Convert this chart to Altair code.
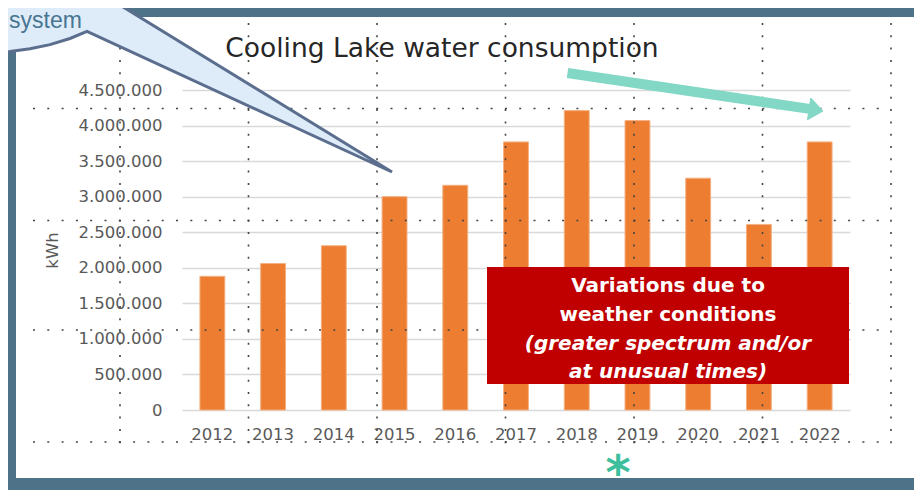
import altair as alt
import pandas as pd

# ---------------- chart data ----------------
years = ["2012", "2013", "2014", "2015", "2016", "2017", "2018", "2019", "2020", "2021", "2022"]
kwh = [1880000, 2060000, 2310000, 3000000, 3160000, 3770000, 4210000, 4070000, 3260000, 2610000, 3770000]
y_ticks = [0, 500000, 1000000, 1500000, 2000000, 2500000, 3000000, 3500000, 4000000, 4500000]

title_text = "Cooling Lake water consumption"
y_title = "kWh"
box_lines_bold = ["Variations due to", "weather conditions"]
box_lines_italic = ["(greater spectrum and/or", "at unusual times)"]
bubble_label = "system"
star_label = "*"

# ---------------- annotation geometry (slide pixels) ----------------
PX = [182, 850]   # plot area left/right on the slide
PY = [410, 90]    # plot area bottom/top on the slide

hdot_y = [108.5, 220.5, 330, 442]
hdot_x0 = [33, 33, 33, 33]
hdot_x1 = [891, 891, 891, 891]
vdot_x = [120, 248.5, 377, 505.5, 634, 762.5, 891]
vdot_y0 = [23] * 7
vdot_y1 = [453] * 7

frame_x0 = [0, 0, 0]
frame_x1 = [16, 922, 922]
frame_y0 = [0, 0, 478]
frame_y1 = [490, 17, 490]

bubble_x = [-10, 10, 30, 50, 70, 87, 392, 122, 128, 131, 131, -10, -10]
bubble_y = [52.8, 51.5, 48.8, 44.6, 38.5, 31.4, 172, 6.3, -1.8, -6, -15, -15, 52.8]

arrow_x = [567.5, 809.5]
arrow_y = [73, 108.9]
head_x = [810.8, 823, 807.5, 810.8]
head_y = [98.0, 111, 119.8, 98.0]

box_x0, box_x1, box_y0, box_y1 = [487], [849], [267], [384]
box_text_x = 668
box_bold_y = [291.7, 321]
box_italic_y = [349.5, 378.3]

title_x, title_y = [442], [57.3]
bubble_text_x, bubble_text_y = [9], [28]
star_x, star_y = [618], [489]

# ---------------- helpers ----------------
def sx(f):
    return alt.X(f"{f}:Q", scale=alt.Scale(domain=PX, nice=False, zero=False), axis=None)

def sy(f):
    return alt.Y(f"{f}:Q", scale=alt.Scale(domain=PY, nice=False, zero=False), axis=None)

# ---------------- bars ----------------
bars_df = pd.DataFrame({"year": years, "kwh": kwh})
bars = alt.Chart(bars_df).mark_bar(color="#ED7D31", stroke="#F4B183", strokeWidth=1).encode(
    x=alt.X("year:O", sort=years, title=None,
            scale=alt.Scale(paddingInner=0.59, paddingOuter=0.295),
            axis=alt.Axis(labelAngle=0, domain=False, ticks=False, grid=False, labelPadding=16)),
    y=alt.Y("kwh:Q", title=y_title,
            scale=alt.Scale(domain=[0, 4500000], nice=False, zero=True),
            axis=alt.Axis(values=y_ticks, domain=False, ticks=False, grid=True,
                          gridColor="#D9D9D9", gridWidth=1.5, labelPadding=20, titlePadding=18,
                          labelExpr="replace(format(datum.value, ','), /,/g, '.')")),
)

# ---------------- overlays ----------------
hdots = alt.Chart(pd.DataFrame({"x": hdot_x0, "x2": hdot_x1, "y": hdot_y})).mark_rule(
    color="#444444", strokeWidth=1.6, strokeDash=[2, 12.3], strokeCap="butt").encode(
    x=sx("x"), x2="x2:Q", y=sy("y"))
vdots = alt.Chart(pd.DataFrame({"x": vdot_x, "y": vdot_y0, "y2": vdot_y1})).mark_rule(
    color="#444444", strokeWidth=1.6, strokeDash=[2, 10.3], strokeCap="butt").encode(
    x=sx("x"), y=sy("y"), y2="y2:Q")

title = alt.Chart(pd.DataFrame({"x": title_x, "y": title_y, "t": [title_text]})).mark_text(
    font="DejaVu Sans", fontSize=26.5, color="#262626", align="center", baseline="alphabetic").encode(
    x=sx("x"), y=sy("y"), text="t:N")

shaft = alt.Chart(pd.DataFrame({"x": arrow_x, "y": arrow_y, "i": [0, 1]})).mark_line(
    color="#82D8C5", strokeWidth=10, strokeCap="butt").encode(
    x=sx("x"), y=sy("y"), order="i:Q")
head = alt.Chart(pd.DataFrame({"x": head_x, "y": head_y, "i": list(range(len(head_x)))})).mark_line(
    color="#82D8C5", fill="#82D8C5", strokeWidth=1).encode(
    x=sx("x"), y=sy("y"), order="i:Q")

box = alt.Chart(pd.DataFrame({"x": box_x0, "x2": box_x1, "y": box_y0, "y2": box_y1})).mark_rect(
    color="#C00000").encode(x=sx("x"), x2="x2:Q", y=sy("y"), y2="y2:Q")
box_t1 = alt.Chart(pd.DataFrame({"x": [box_text_x] * 2, "y": box_bold_y, "t": box_lines_bold})).mark_text(
    font="DejaVu Sans", fontSize=20, fontWeight="bold", color="white", align="center",
    baseline="alphabetic").encode(x=sx("x"), y=sy("y"), text="t:N")
box_t2 = alt.Chart(pd.DataFrame({"x": [box_text_x] * 2, "y": box_italic_y, "t": box_lines_italic})).mark_text(
    font="DejaVu Sans", fontSize=20, fontWeight="bold", fontStyle="italic", color="white", align="center",
    baseline="alphabetic").encode(x=sx("x"), y=sy("y"), text="t:N")

star = alt.Chart(pd.DataFrame({"x": star_x, "y": star_y, "t": [star_label]})).mark_text(
    font="DejaVu Sans", fontSize=48, fontWeight="bold", color="#3DBF9E", align="center",
    baseline="alphabetic").encode(x=sx("x"), y=sy("y"), text="t:N")

frame = alt.Chart(pd.DataFrame({"x": frame_x0, "x2": frame_x1, "y": frame_y0, "y2": frame_y1})).mark_rect(
    color="#4E7389").encode(x=sx("x"), x2="x2:Q", y=sy("y"), y2="y2:Q")

bubble = alt.Chart(pd.DataFrame({"x": bubble_x, "y": bubble_y, "i": list(range(len(bubble_x)))})).mark_line(
    color="#5B6E8E", fill="#DEECF9", strokeWidth=3, strokeJoin="miter").encode(
    x=sx("x"), y=sy("y"), order="i:Q")
bubble_t = alt.Chart(pd.DataFrame({"x": bubble_text_x, "y": bubble_text_y, "t": [bubble_label]})).mark_text(
    font="Liberation Sans", fontSize=23, color="#487591", align="left", baseline="alphabetic").encode(
    x=sx("x"), y=sy("y"), text="t:N")

chart = alt.layer(
    bars, hdots, vdots, title, shaft, head, box, box_t1, box_t2, frame, star, bubble, bubble_t
).resolve_scale(x="independent", y="independent").properties(
    width=668, height=320,
    autosize=alt.AutoSizeParams(type="none"),
    padding={"left": 174, "top": 82, "right": 64, "bottom": 80},
    background="white",
).configure_view(stroke=None).configure_axis(
    labelFont="DejaVu Sans", labelFontSize=16.5, labelColor="#595959",
    titleFont="DejaVu Sans", titleFontSize=16.5, titleFontWeight="normal", titleColor="#595959",
)

chart.save("out.html", embed_options={"renderer": "svg", "actions": False})
